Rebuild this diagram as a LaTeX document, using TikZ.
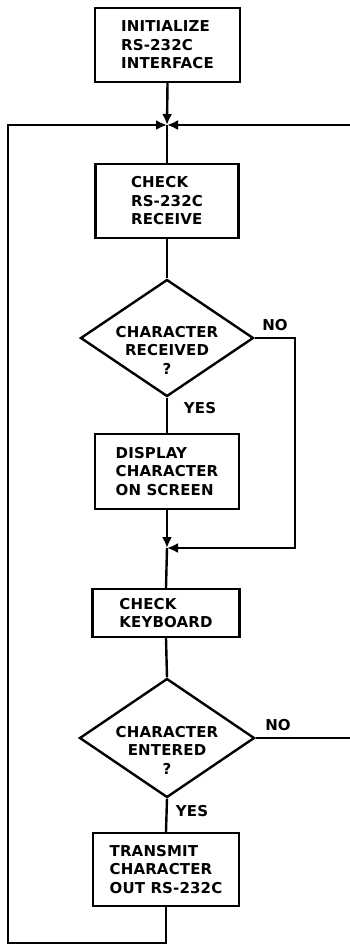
\documentclass[tikz,border=0pt]{standalone}
\usepackage{fontspec}
\newfontfamily\flowfont{DejaVu Sans Bold}[LetterSpace=1]
\usetikzlibrary{shapes.geometric,arrows.meta}
\begin{document}
\begin{tikzpicture}[x=1pt,y=-1pt,
  txt/.style={font=\flowfont\fontsize{15}{18.5}\selectfont, inner sep=0pt},
  box/.style={txt, draw, line width=2.4pt, align=left},
  dia/.style={draw, diamond, line width=2.4pt, inner sep=0pt},
  dtext/.style={txt, align=center},
  lbl/.style={txt},
  ln/.style={line width=2.4pt},
  arr/.style={ln, -{Latex[length=11pt,width=10pt]}}
]
\useasboundingbox (0,0) rectangle (349,946);

\node[box, minimum width=145pt, minimum height=74pt] (init) at (167.5,45) {INITIALIZE\\RS-232C\\INTERFACE};
\coordinate (j1) at (167,125);
\node[box, minimum width=143pt, minimum height=74pt] (check) at (167,201) {CHECK\\RS-232C\\RECEIVE};
\node[dia, minimum width=173pt, minimum height=117pt] (d1) at (167,338) {};
\node[dtext] (d1t) at (167,350) {CHARACTER\\RECEIVED\\?};
\node[box, minimum width=144pt, minimum height=75pt] (disp) at (167,471.5) {DISPLAY\\CHARACTER\\ON SCREEN};
\coordinate (j2) at (167,548);
\node[box, minimum width=147pt, minimum height=48pt] (kbd) at (166,613) {CHECK\\KEYBOARD};
\node[dia, minimum width=175pt, minimum height=119pt] (d2) at (167,738) {};
\node[dtext] (d2t) at (167,750) {CHARACTER\\ENTERED\\?};
\node[box, minimum width=146pt, minimum height=73pt] (tx) at (166,869.5) {TRANSMIT\\CHARACTER\\OUT RS-232C};

\node[lbl] (no1) at (275,325) {NO};
\node[lbl] (yes1) at (200,408) {YES};
\node[lbl] (no2) at (278,725) {NO};
\node[lbl] (yes2) at (192,811) {YES};

\coordinate (r1) at (295,338);
\coordinate (r2) at (295,548);
\coordinate (b1) at (166,943);
\coordinate (b2) at (8,943);
\coordinate (l1) at (8,125);
\coordinate (e1) at (352,738);
\coordinate (e2) at (352,125);

\draw[arr] (init.south) -- (j1);
\draw[arr] (tx.south) -- (b1) -- (b2) -- (l1) -- (j1);
\draw[arr] (d2.east) -- (e1) -- (e2) -- (j1);
\draw[ln] (j1) -- (check.north);
\draw[ln] (check.south) -- (d1.north);
\draw[ln] (d1.south) -- (disp.north);
\draw[arr] (disp.south) -- (j2);
\draw[arr] (d1.east) -- (r1) -- (r2) -- (j2);
\draw[ln] (j2) -- (kbd.north);
\draw[ln] (kbd.south) -- (d2.north);
\draw[ln] (d2.south) -- (tx.north);
\end{tikzpicture}
\end{document}
